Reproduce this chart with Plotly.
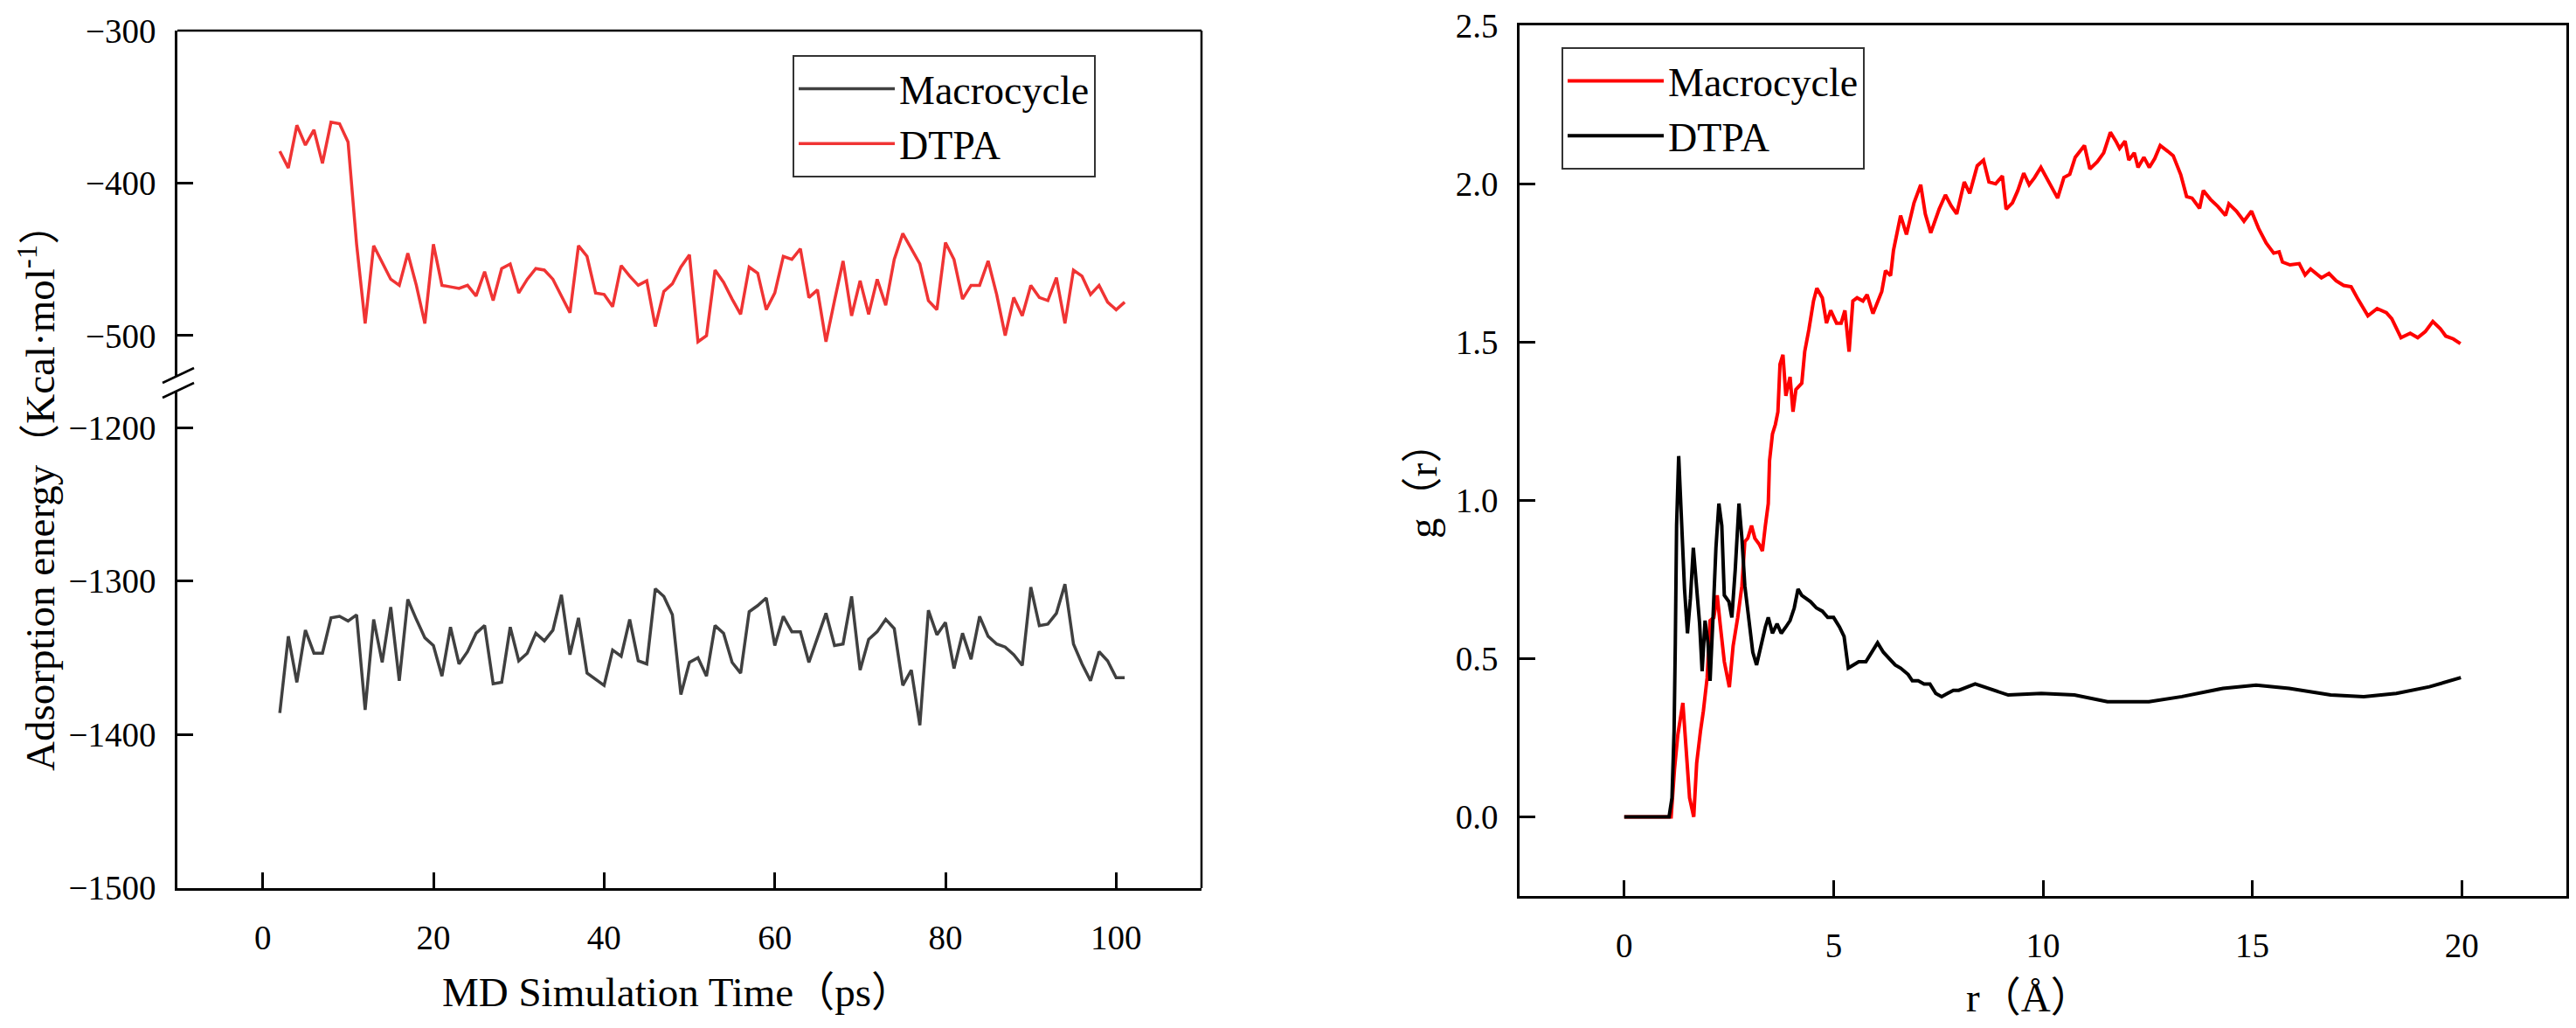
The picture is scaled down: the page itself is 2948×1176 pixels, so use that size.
import plotly.graph_objects as go

W, H = 2948, 1176          # browser window
OFF = 8                    # default page margin around the figure div
FW, FH = W - 2 * OFF, H - 2 * OFF

# ---------------- data ----------------
time_ps = list(range(2, 102))

dtpa_energy = [-379, -390, -362, -375, -365, -387, -360, -361, -373, -440,
               -492, -441, -452, -463, -467, -446, -467, -492, -440, -467,
               -468, -469, -467, -474, -458, -477, -456, -453, -472, -463,
               -456, -457, -463, -474, -485, -441, -448, -472, -473, -481,
               -454, -461, -467, -464, -494, -471, -466, -455, -447, -504,
               -500, -457, -465, -476, -486, -455, -459, -483, -472, -448,
               -450, -443, -475, -470, -504, -477, -451, -487, -464, -486,
               -463, -480, -450, -433, -443, -453, -477, -483, -439, -450,
               -476, -467, -467, -451, -473, -500, -475, -487, -467, -475,
               -477, -462, -492, -457, -461, -473, -467, -478, -483, -478]

macro_energy = [-1386, -1336, -1366, -1332, -1347, -1347, -1324, -1323, -1326, -1322,
                -1384, -1325, -1353, -1317, -1365, -1312, -1325, -1337, -1342, -1362,
                -1330, -1354, -1346, -1334, -1329, -1367, -1366, -1330, -1352, -1347,
                -1334, -1339, -1332, -1309, -1348, -1324, -1360, -1364, -1368, -1345,
                -1349, -1325, -1352, -1354, -1305, -1310, -1322, -1374, -1353, -1350,
                -1362, -1329, -1334, -1353, -1360, -1320, -1316, -1311, -1342, -1323,
                -1333, -1333, -1353, -1337, -1321, -1342, -1341, -1310, -1358, -1338,
                -1333, -1325, -1331, -1368, -1358, -1394, -1319, -1335, -1327, -1357,
                -1334, -1351, -1323, -1336, -1341, -1343, -1348, -1355, -1304, -1329,
                -1328, -1321, -1302, -1341, -1354, -1365, -1346, -1352, -1363, -1363]

rdf_macro_r = [0.0, 1.12, 1.20, 1.28, 1.40, 1.47, 1.56, 1.66, 1.73, 1.82,
               1.89, 1.98, 2.05, 2.14, 2.22, 2.29, 2.39, 2.51, 2.60, 2.71,
               2.81, 2.88, 2.95, 3.04, 3.12, 3.23, 3.30, 3.37, 3.44, 3.47,
               3.54, 3.61, 3.67, 3.72, 3.79, 3.86, 3.96, 4.03, 4.10, 4.24,
               4.31, 4.41, 4.52, 4.60, 4.73, 4.83, 4.93, 5.07, 5.18, 5.27,
               5.37, 5.46, 5.56, 5.70, 5.80, 5.94, 6.05, 6.15, 6.24, 6.36,
               6.43, 6.53, 6.60, 6.74, 6.92, 7.08, 7.19, 7.32, 7.52, 7.67,
               7.81, 7.94, 8.12, 8.25, 8.43, 8.58, 8.71, 8.87, 9.03, 9.12,
               9.27, 9.40, 9.54, 9.67, 9.80, 9.95, 10.15, 10.35, 10.50, 10.64,
               10.77, 10.99, 11.12, 11.30, 11.45, 11.61, 11.74, 11.83, 11.96, 12.05,
               12.18, 12.27, 12.41, 12.54, 12.67, 12.80, 12.98, 13.11, 13.29, 13.43,
               13.56, 13.74, 13.83, 14.00, 14.18, 14.36, 14.44, 14.62, 14.80, 14.98,
               15.15, 15.33, 15.51, 15.64, 15.72, 15.90, 16.12, 16.26, 16.39, 16.65,
               16.83, 17.00, 17.18, 17.36, 17.53, 17.76, 17.98, 18.20, 18.33, 18.55,
               18.77, 18.95, 19.13, 19.31, 19.49, 19.62, 19.80, 19.97]
rdf_macro_g = [0.0, 0.0, 0.15, 0.26, 0.36, 0.22, 0.06, 0.0, 0.17, 0.27,
               0.335, 0.44, 0.62, 0.63, 0.70, 0.61, 0.49, 0.41, 0.54, 0.63,
               0.73, 0.87, 0.88, 0.92, 0.88, 0.86, 0.84, 0.92, 0.99, 1.125,
               1.21, 1.24, 1.28, 1.43, 1.46, 1.33, 1.39, 1.28, 1.35, 1.37,
               1.47, 1.54, 1.63, 1.67, 1.64, 1.56, 1.60, 1.56, 1.56, 1.60,
               1.47, 1.63, 1.64, 1.63, 1.65, 1.59, 1.63, 1.66, 1.726, 1.71,
               1.79, 1.86, 1.90, 1.84, 1.94, 1.997, 1.905, 1.845, 1.92, 1.965,
               1.93, 1.905, 2.006, 1.97, 2.057, 2.075, 2.006, 2.0, 2.025, 1.92,
               1.94, 1.979, 2.034, 1.997, 2.02, 2.052, 2.006, 1.955, 2.02, 2.03,
               2.084, 2.121, 2.047, 2.07, 2.098, 2.163, 2.135, 2.112, 2.135, 2.075,
               2.098, 2.052, 2.084, 2.052, 2.08, 2.121, 2.103, 2.089, 2.029, 1.96,
               1.955, 1.923, 1.979, 1.951, 1.928, 1.90, 1.937, 1.914, 1.882, 1.914,
               1.859, 1.813, 1.781, 1.785, 1.753, 1.744, 1.748, 1.712, 1.731, 1.703,
               1.717, 1.694, 1.679, 1.675, 1.634, 1.583, 1.606, 1.593, 1.574, 1.514,
               1.528, 1.514, 1.533, 1.565, 1.542, 1.519, 1.51, 1.495]

rdf_dtpa_r = [0.0, 1.07, 1.14, 1.19, 1.22, 1.25, 1.30, 1.37, 1.44, 1.51,
              1.58, 1.65, 1.73, 1.80, 1.86, 1.93, 2.00, 2.05, 2.12, 2.19,
              2.26, 2.33, 2.39, 2.50, 2.57, 2.65, 2.74, 2.81, 2.88, 2.97,
              3.07, 3.16, 3.26, 3.37, 3.44, 3.54, 3.65, 3.75, 3.86, 3.96,
              4.06, 4.15, 4.24, 4.34, 4.45, 4.59, 4.73, 4.86, 5.00, 5.14,
              5.25, 5.35, 5.46, 5.60, 5.77, 5.91, 6.05, 6.19, 6.33, 6.47,
              6.60, 6.78, 6.88, 7.02, 7.16, 7.30, 7.44, 7.58, 7.72, 7.86,
              7.99, 8.38, 9.17, 9.96, 10.75, 11.54, 12.53, 13.32, 14.30, 15.09,
              15.88, 16.87, 17.66, 18.44, 19.23, 19.98]
rdf_dtpa_g = [0.0, 0.0, 0.06, 0.27, 0.55, 0.92, 1.14, 0.92, 0.72, 0.58,
              0.69, 0.85, 0.72, 0.61, 0.46, 0.62, 0.55, 0.43, 0.63, 0.85,
              0.99, 0.92, 0.70, 0.68, 0.63, 0.78, 0.99, 0.88, 0.73, 0.63,
              0.52, 0.48, 0.54, 0.60, 0.63, 0.58, 0.61, 0.58, 0.60, 0.62,
              0.66, 0.72, 0.70, 0.69, 0.68, 0.66, 0.65, 0.63, 0.63, 0.60,
              0.57, 0.47, 0.48, 0.49, 0.49, 0.52, 0.55, 0.52, 0.50, 0.48,
              0.47, 0.45, 0.43, 0.43, 0.42, 0.42, 0.39, 0.38, 0.39, 0.40,
              0.40, 0.42, 0.385, 0.39, 0.385, 0.364, 0.364, 0.38, 0.406, 0.416,
              0.406, 0.385, 0.38, 0.39, 0.411, 0.44]

left_xticks = [0, 20, 40, 60, 80, 100]
upper_yticks = [-300, -400, -500]
lower_yticks = [-1200, -1300, -1400, -1500]
right_xticks = [0, 5, 10, 15, 20]
right_yticks = [0.0, 0.5, 1.0, 1.5, 2.0, 2.5]

# ---------------- layout helpers (window pixel -> paper) ----------------
def fx(p):
    return (p - OFF) / FW

def fy(p):
    return 1 - (p - OFF) / FH

FONT = "Liberation Serif, Times New Roman, Noto Sans CJK SC, serif"
LW = 2.5
TICK_FONT = dict(family=FONT, size=39, color="black")

L_X0, L_X1 = 203, 1375
U_Y0, U_Y1 = 35, 430      # upper (DTPA) band
D_Y0, D_Y1 = 447, 1016    # lower (Macrocycle) band
R_X0, R_X1 = 1739, 2937
R_Y0, R_Y1 = 29, 1025

common_axis = dict(showgrid=False, zeroline=False, showline=True, linecolor="black",
                   linewidth=LW, ticks="inside", ticklen=18, tickwidth=LW,
                   tickcolor="black", tickfont=TICK_FONT, automargin=False,
                   ticklabeloverflow="allow")

fig = go.Figure()

# left panel
fig.add_trace(go.Scatter(x=time_ps, y=macro_energy, mode="lines", name="Macrocycle",
                         line=dict(color="#404040", width=3.5), xaxis="x", yaxis="y3",
                         legend="legend"))
fig.add_trace(go.Scatter(x=time_ps, y=dtpa_energy, mode="lines", name="DTPA",
                         line=dict(color="#F03434", width=3.5), xaxis="x", yaxis="y",
                         legend="legend"))
# right panel
fig.add_trace(go.Scatter(x=rdf_macro_r, y=rdf_macro_g, mode="lines", name="Macrocycle",
                         line=dict(color="#FF0000", width=4), xaxis="x2", yaxis="y2",
                         legend="legend2"))
fig.add_trace(go.Scatter(x=rdf_dtpa_r, y=rdf_dtpa_g, mode="lines", name="DTPA",
                         line=dict(color="#000000", width=4), xaxis="x2", yaxis="y2",
                         legend="legend2"))

LEG_FONT = dict(family=FONT, size=46, color="black")

fig.update_layout(
    template="none",
    width=FW, height=FH, autosize=False,
    margin=dict(l=0, r=0, t=0, b=0, pad=0, autoexpand=False),
    paper_bgcolor="white", plot_bgcolor="white",
    font=dict(family=FONT, color="black"),
    xaxis=dict(domain=[fx(L_X0), fx(L_X1)], range=[-10, 110], anchor="y3",
               tickvals=left_xticks, ticklabelstandoff=20, **common_axis),
    yaxis=dict(domain=[fy(U_Y1), fy(U_Y0)], range=[-526.4, -299.9], anchor="x",
               tickvals=upper_yticks, ticklabelstandoff=14, **common_axis),
    yaxis3=dict(domain=[fy(D_Y1), fy(D_Y0)], range=[-1500.1, -1176], anchor="x",
                tickvals=lower_yticks, ticklabelstandoff=14, **common_axis),
    xaxis2=dict(domain=[fx(R_X0), fx(R_X1)], range=[-2.5, 22.5], anchor="y2",
                tickvals=right_xticks, mirror=True, ticklabelstandoff=20, **common_axis),
    yaxis2=dict(domain=[fy(R_Y1), fy(R_Y0)], range=[-0.25, 2.5008], anchor="x2",
                tickvals=right_yticks, tickformat=".1f", mirror=True,
                ticklabelstandoff=14, **common_axis),
    legend=dict(x=fx(907), y=fy(63), xanchor="left", yanchor="top",
                bgcolor="white", bordercolor="#333333", borderwidth=2,
                font=LEG_FONT, itemwidth=110, tracegroupgap=0),
    legend2=dict(x=fx(1787), y=fy(54), xanchor="left", yanchor="top",
                 bgcolor="white", bordercolor="#333333", borderwidth=2,
                 font=LEG_FONT, itemwidth=110, tracegroupgap=0),
    showlegend=True,
)

# frame pieces of the broken-axis panel and the break marks
shapes = [
    dict(type="line", xref="paper", yref="paper", x0=fx(L_X0), x1=fx(L_X1),
         y0=fy(U_Y0), y1=fy(U_Y0), line=dict(color="black", width=LW)),
    dict(type="line", xref="paper", yref="paper", x0=fx(L_X1), x1=fx(L_X1),
         y0=fy(U_Y0), y1=fy(D_Y1), line=dict(color="black", width=LW)),
    dict(type="line", xref="paper", yref="paper", x0=fx(186), x1=fx(222),
         y0=fy(438), y1=fy(421), line=dict(color="black", width=LW)),
    dict(type="line", xref="paper", yref="paper", x0=fx(186), x1=fx(222),
         y0=fy(455), y1=fy(438), line=dict(color="black", width=LW)),
]
fig.update_layout(shapes=shapes)

TITLE_FONT = dict(family=FONT, size=47, color="black")
annotations = [
    dict(text="MD Simulation Time（ps）", x=fx(775), y=fy(1135), xref="paper", yref="paper",
         showarrow=False, xanchor="center", yanchor="middle", font=TITLE_FONT),
    dict(text="Adsorption energy（Kcal·mol<sup>-1</sup>）", x=fx(42), y=fy(558),
         xref="paper", yref="paper", showarrow=False, textangle=-90,
         xanchor="center", yanchor="middle", font=TITLE_FONT),
    dict(text="g（r）", x=fx(1628), y=fy(550), xref="paper", yref="paper",
         showarrow=False, textangle=-90, xanchor="center", yanchor="middle", font=TITLE_FONT),
    dict(text="r（Å）", x=fx(2322), y=fy(1141), xref="paper", yref="paper",
         showarrow=False, xanchor="center", yanchor="middle", font=TITLE_FONT),
]
fig.update_layout(annotations=annotations)

fig.write_html("out.html")
